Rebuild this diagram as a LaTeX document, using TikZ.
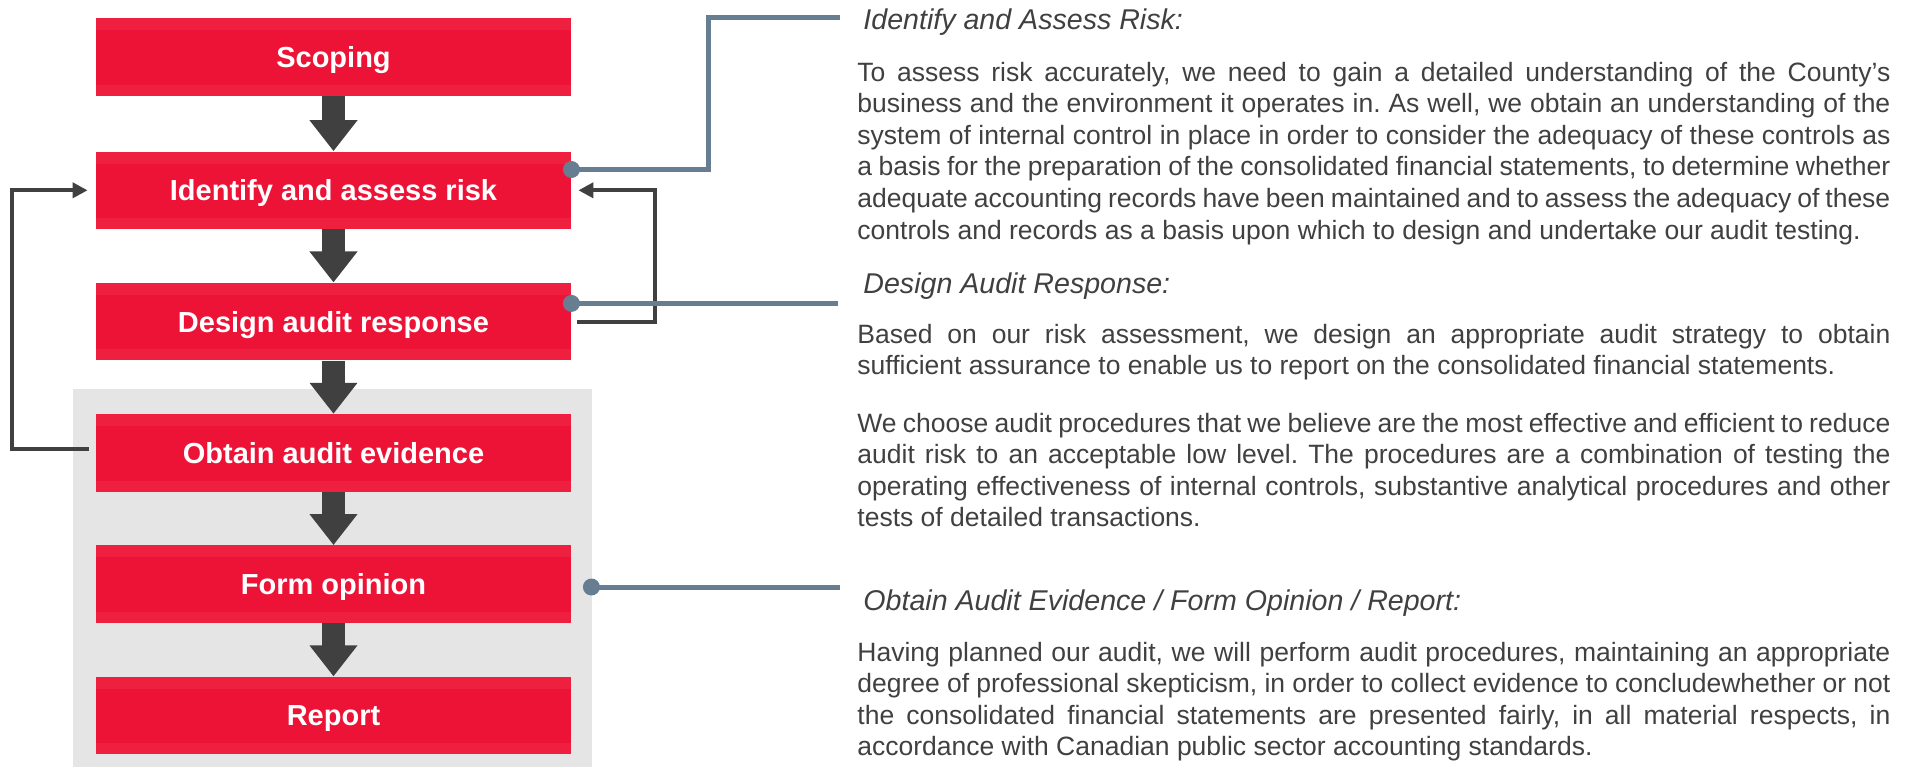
\documentclass[tikz,border=0pt]{standalone}
\usepackage{fontspec}
\setmainfont{Liberation Sans}
\usetikzlibrary{positioning,arrows.meta}

\definecolor{stepred}{HTML}{ED1336}
\definecolor{stepband}{HTML}{EF1F40}
\definecolor{flowgray}{HTML}{404040}
\definecolor{panelgray}{HTML}{E5E5E5}
\definecolor{linkblue}{HTML}{667D92}
\definecolor{notegray}{HTML}{404040}

\newcommand{\stepfont}{\fontsize{14.5pt}{17pt}\selectfont\bfseries}
\newcommand{\headfont}{\fontsize{14.3pt}{17pt}\selectfont\itshape}
\newcommand{\notefont}{\fontsize{13.25pt}{15.8pt}\selectfont\frenchspacing
  \spaceskip=0.278em plus 1em minus 0.15em\relax\hyphenpenalty=10000\relax}

\tikzset{
  stepbox/.style={fill=stepred, text=white, font=\stepfont, inner sep=0pt,
    minimum width=237.5pt, minimum height=38.75pt, text height=10.4pt, text depth=0pt,
    path picture={
      \fill[stepband] (path picture bounding box.north west) rectangle ([yshift=-6pt]path picture bounding box.north east);
      \fill[stepband] ([yshift=5.5pt]path picture bounding box.south west) rectangle (path picture bounding box.south east);
    }},
  bigarrow/.style={draw=flowgray, line width=11.5pt, -{Triangle[width=23pt,length=15.5pt]}},
  loopline/.style={draw=flowgray, line width=2pt, -{Triangle[width=7.5pt,length=7.5pt]}},
  link/.style={draw=linkblue, line width=2.5pt},
  notehead/.style={anchor=base west, inner sep=0pt, text=notegray, font=\headfont},
  notebody/.style={anchor=base west, inner sep=0pt, text=notegray, font=\notefont,
    text width=516.5pt, align=justify},
}

\begin{document}
\begin{tikzpicture}[x=0.5pt,y=-0.5pt,node distance=26.5pt]
  \useasboundingbox (0,0) rectangle (1914,767);

  % panel behind the last three steps
  \fill[panelgray] (73,389) rectangle (592,767);

  % steps
  \node[stepbox] (scoping) at (333.5,57) {Scoping};
  \node[stepbox,below=27.5pt of scoping] (identify) {Identify and assess risk};
  \node[stepbox,below=of identify] (design) {Design audit response};
  \node[stepbox,below=of design] (obtain) {Obtain audit evidence};
  \node[stepbox,below=of obtain] (form) {Form opinion};
  \node[stepbox,below=of form] (report) {Report};

  \foreach \a/\b in {scoping/identify,identify/design,design/obtain,obtain/form,form/report}
    \draw[bigarrow] (\a) -- (\b);

  % feedback loops
  \draw[loopline] ([xshift=-3.5pt,yshift=1.9pt]obtain.west) -- ++(-77,0) |- ([xshift=-4pt]identify.west);
  \draw[loopline] ([xshift=3pt]design.east) -- ++(78,0) |- ([xshift=3.5pt]identify.east);

  % notes
  \node[notehead] (riskhead) at (863,29) {Identify and Assess Risk:};
  \node[notebody] (risktext) at (857,81) {To assess risk accurately, we need to gain a detailed understanding of the County’s\linebreak
    business and the environment it operates in. As well, we obtain an understanding of the\linebreak
    system of internal control in place in order to consider the adequacy of these controls as\linebreak
    a basis for the preparation of the consolidated financial statements, to determine whether\linebreak
    adequate accounting records have been maintained and to assess the adequacy of these\linebreak
    controls and records as a basis upon which to design and undertake our audit testing.};

  \node[notehead] (designhead) at (863,293) {Design Audit Response:};
  \node[notebody] (designtext) at (857,343) {Based on our risk assessment, we design an appropriate audit strategy to obtain\linebreak
    sufficient assurance to enable us to report on the consolidated financial statements.};
  \node[notebody] (proctext) at (857,432) {We choose audit procedures that we believe are the most effective and efficient to reduce\linebreak
    audit risk to an acceptable low level. The procedures are a combination of testing the\linebreak
    operating effectiveness of internal controls, substantive analytical procedures and other\linebreak
    tests of detailed transactions.};

  \node[notehead] (evidhead) at (863,610) {Obtain Audit Evidence / Form Opinion / Report:};
  \node[notebody] (evidtext) at (857,661) {Having planned our audit, we will perform audit procedures, maintaining an appropriate\linebreak
    degree of professional skepticism, in order to collect evidence to concludewhether or not\linebreak
    the consolidated financial statements are presented fairly, in all material respects, in\linebreak
    accordance with Canadian public sector accounting standards.};

  % links from steps to notes
  \coordinate (riskend) at (840,17);
  \draw[link] ([yshift=10.4pt]identify.east) coordinate (riskdot) -- ++(137,0) |- (riskend);
  \draw[link] ([yshift=9.1pt]design.east) coordinate (designdot) -- ++(267,0) coordinate (designend);
  \draw[link] ([xshift=10pt,yshift=-1.4pt]form.east) coordinate (evidot) -- ++(249,0) coordinate (evidend);
  \foreach \d in {riskdot,designdot,evidot}
    \fill[linkblue] (\d) circle (4.25pt);
\end{tikzpicture}
\end{document}
